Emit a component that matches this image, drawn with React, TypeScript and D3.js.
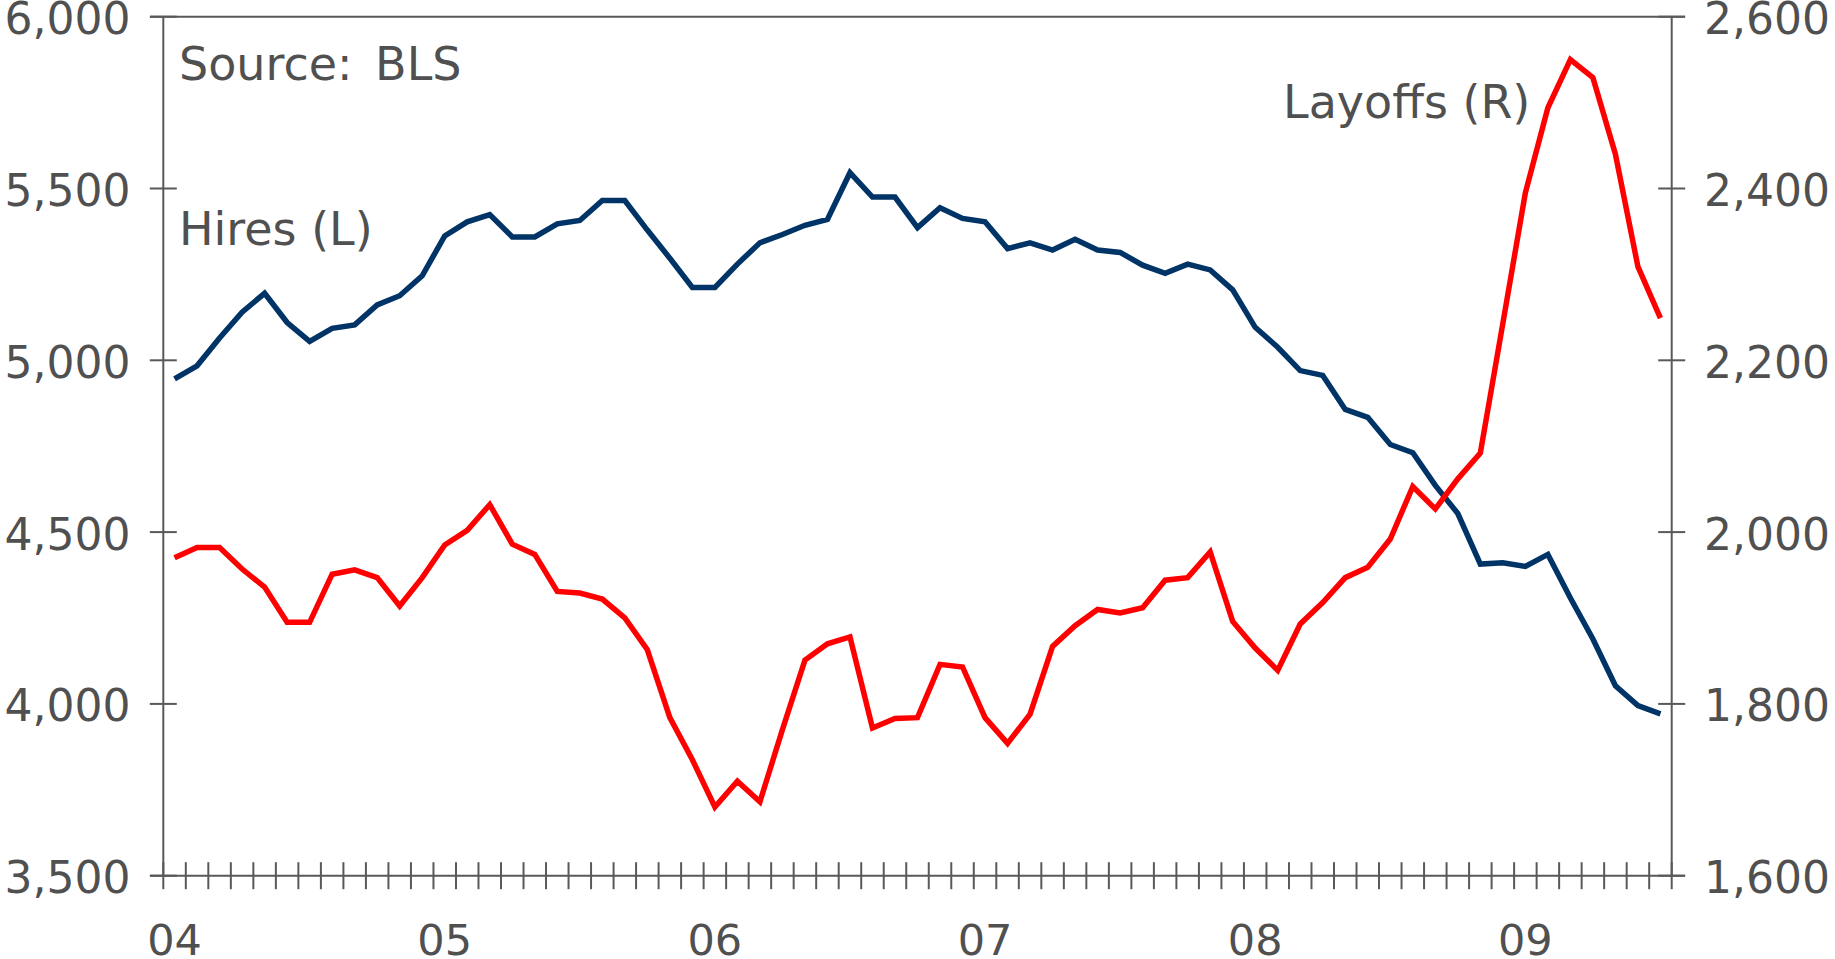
import React from "react";
import * as d3 from "d3";

const yearLabels = ["04", "05", "06", "07", "08", "09"];

const hires = [
  4946, 4984, 5065, 5140, 5195, 5110, 5055, 5093, 5103, 5161, 5188, 5246,
  5362, 5403, 5424, 5359, 5359, 5397, 5407, 5465, 5465, 5379, 5297, 5212,
  5212, 5280, 5342, 5366, 5393, 5410, 5546, 5475, 5475, 5386, 5444, 5413,
  5403, 5325, 5342, 5321, 5352, 5321, 5314, 5277, 5253, 5280, 5263, 5205,
  5096, 5038, 4970, 4956, 4857, 4834, 4755, 4731, 4636, 4554, 4407, 4411,
  4400, 4435, 4308, 4189, 4053, 3995, 3971,
];

const layoffs = [
  1970, 1982, 1982, 1957, 1936, 1895, 1895, 1951, 1956, 1947, 1914, 1947,
  1985, 2002, 2032, 1986, 1974, 1931, 1929, 1922, 1900, 1863, 1784, 1735,
  1680, 1710, 1686, 1770, 1851, 1870, 1878, 1772, 1783, 1784, 1846, 1843,
  1784, 1754, 1788, 1867, 1891, 1910, 1906, 1912, 1944, 1947, 1977, 1896,
  1865, 1839, 1893, 1918, 1947, 1959, 1992, 2053, 2027, 2062, 2092, 2243,
  2395, 2494, 2550, 2529, 2440, 2309, 2249,
];

const leftTicks = [3500, 4000, 4500, 5000, 5500, 6000];
const rightTicks = [1600, 1800, 2000, 2200, 2400, 2600];

const W = 1835;
const H = 959;
const X0 = 163.3;
const X1 = 1671.7;
const Y0 = 16.7;
const Y1 = 875.7;
const AX = "#595959";
const TXT = "#505050";
const FONT = "'DejaVu Sans', Verdana, sans-serif";

export default function App() {
  const n = hires.length;
  const x = d3.scaleLinear().domain([0, n]).range([X0, X1]);
  const yL = d3.scaleLinear().domain([3500, 6000]).range([Y1, Y0]);
  const yR = d3.scaleLinear().domain([1600, 2600]).range([Y1, Y0]);

  const lineL = d3
    .line<number>()
    .x((_, i) => x(i + 0.5))
    .y((d) => yL(d));
  const lineR = d3
    .line<number>()
    .x((_, i) => x(i + 0.5))
    .y((d) => yR(d));

  const fmt = d3.format(",");
  const boundaries = d3.range(0, n + 1);

  return (
    <svg
      width={W}
      height={H}
      style={{ position: "absolute", left: 0, top: 0, background: "#fff" }}
      fontFamily={FONT}
    >
      {/* frame */}
      <line x1={150} x2={1685} y1={Y0} y2={Y0} stroke={AX} strokeWidth={2} />
      <line x1={150} x2={1685} y1={Y1} y2={Y1} stroke={AX} strokeWidth={2} />
      <line x1={X0} x2={X0} y1={Y0} y2={Y1} stroke={AX} strokeWidth={2} />
      <line x1={X1} x2={X1} y1={Y0} y2={Y1} stroke={AX} strokeWidth={2} />

      {/* left ticks */}
      {leftTicks.map((t) => (
        <g key={"l" + t}>
          <line x1={X0 - 13.5} x2={X0 + 13.5} y1={yL(t)} y2={yL(t)} stroke={AX} strokeWidth={2} />
          <text x={130.5} y={yL(t) + 17.5} textAnchor="end" fontSize={44} fill={TXT}>
            {fmt(t)}
          </text>
        </g>
      ))}
      {/* right ticks */}
      {rightTicks.map((t) => (
        <g key={"r" + t}>
          <line x1={X1 - 13.5} x2={X1 + 13.5} y1={yR(t)} y2={yR(t)} stroke={AX} strokeWidth={2} />
          <text x={1704} y={yR(t) + 17.5} textAnchor="start" fontSize={44} fill={TXT}>
            {fmt(t)}
          </text>
        </g>
      ))}
      {/* month ticks */}
      {boundaries.map((b) => (
        <line key={"m" + b} x1={x(b)} x2={x(b)} y1={Y1 - 13.5} y2={Y1 + 13.5} stroke={AX} strokeWidth={2} />
      ))}
      {/* year labels */}
      {yearLabels.map((lab, k) => (
        <text key={lab} x={x(k * 12 + 0.5)} y={955} textAnchor="middle" fontSize={43} fill={TXT}>
          {lab}
        </text>
      ))}

      {/* series */}
      <path d={lineL(hires) || ""} fill="none" stroke="#003366" strokeWidth={5.5} strokeLinejoin="miter" />
      <path d={lineR(layoffs) || ""} fill="none" stroke="#FF0000" strokeWidth={5.5} strokeLinejoin="miter" />

      {/* annotations */}
      <text x={179} y={80} fontSize={46} fill={TXT} wordSpacing={8}>
        Source: BLS
      </text>
      <text x={179} y={245} fontSize={46} fill={TXT}>
        Hires (L)
      </text>
      <text x={1283} y={118} fontSize={46} fill={TXT}>
        Layoffs (R)
      </text>
    </svg>
  );
}
